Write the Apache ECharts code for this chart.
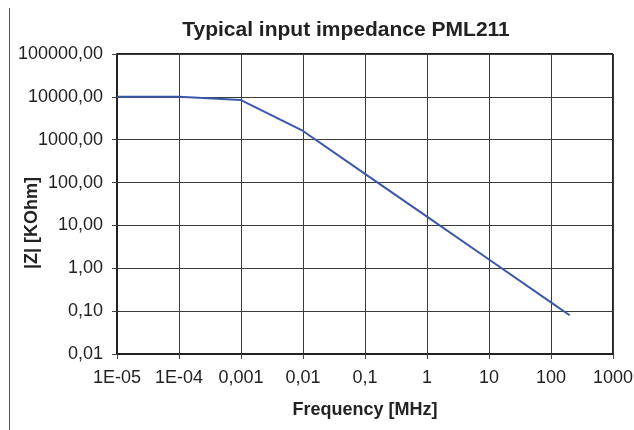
<!DOCTYPE html>
<html>
<head>
<meta charset="utf-8">
<script src="https://cdn.jsdelivr.net/npm/echarts@6/dist/echarts.min.js"></script>
<style>
  html, body { margin: 0; padding: 0; background: #fff; }
  #chart { width: 634px; height: 430px; }
</style>
</head>
<body>
<div id="chart"></div>
<script>
// frequency in MHz, impedance in KOhm
const freq = [0.00001, 0.0001, 0.001, 0.01, 0.1, 1, 10, 100, 200]
const impedance = [10000, 10000, 8400, 1600, 160, 16, 1.6, 0.16, 0.08]

// labels per decade, from the lowest exponent up
const xTickLabels = ['1E-05', '1E-04', '0,001', '0,01', '0,1', '1', '10', '100', '1000']
const yTickLabels = ['0,01', '0,10', '1,00', '10,00', '100,00', '1000,00', '10000,00', '100000,00']

const font = 'Liberation Sans, Arial, sans-serif'
const gridColor = '#3a3a3a'

const chart = echarts.init(document.getElementById('chart'))
chart.setOption({
  backgroundColor: '#fff',
  animation: false,
  title: {
    text: 'Typical input impedance PML211',
    left: 341,
    top: 15,
    textAlign: 'center',
    textStyle: { fontFamily: font, fontSize: 21, fontWeight: 'bold', color: '#222' }
  },
  grid: {
    left: 117, right: 21, top: 54, bottom: 76,
    containLabel: false,
    outerBoundsMode: 'none'
  },
  xAxis: {
    type: 'log',
    logBase: 10,
    min: 0.00001,
    max: 1000,
    interval: 1,
    name: 'Frequency [MHz]',
    nameLocation: 'middle',
    nameGap: 47,
    nameMoveOverlap: false,
    nameTextStyle: { fontFamily: font, fontSize: 18, fontWeight: 'bold', color: '#222' },
    axisLine: { show: true, lineStyle: { color: '#222', width: 2 } },
    axisTick: { show: true, length: 5, lineStyle: { color: '#444' } },
    axisLabel: {
      fontFamily: font, fontSize: 18, color: '#222', margin: 15,
      formatter: v => xTickLabels[Math.round(Math.log10(v)) + 5] || ''
    },
    splitLine: { show: true, lineStyle: { color: gridColor, width: 1 } },
    minorTick: { show: false },
    minorSplitLine: { show: false }
  },
  yAxis: {
    type: 'log',
    logBase: 10,
    min: 0.01,
    max: 100000,
    interval: 1,
    name: '|Z| [KOhm]',
    nameLocation: 'middle',
    nameGap: 76,
    nameMoveOverlap: false,
    nameTextStyle: {
      fontFamily: font, fontSize: 18, fontWeight: 'bold', color: '#222',
      padding: [0, 38, 0, 0]
    },
    axisLine: { show: true, lineStyle: { color: '#222', width: 2 } },
    axisTick: { show: true, length: 5, lineStyle: { color: '#444' } },
    axisLabel: {
      fontFamily: font, fontSize: 18, color: '#222', margin: 14,
      formatter: v => yTickLabels[Math.round(Math.log10(v)) + 2] || ''
    },
    splitLine: { show: true, lineStyle: { color: gridColor, width: 1 } }
  },
  graphic: [{
    type: 'line',
    shape: { x1: 9.5, y1: 8, x2: 9.5, y2: 430 },
    style: { stroke: '#555', lineWidth: 1 }
  }, {
    type: 'line',
    shape: { x1: 613, y1: 54, x2: 613, y2: 354 },
    style: { stroke: '#222', lineWidth: 2 }
  }, {
    type: 'line',
    shape: { x1: 117, y1: 54, x2: 613, y2: 54 },
    style: { stroke: '#222', lineWidth: 2 }
  }],
  series: [{
    type: 'line',
    data: freq.map((f, i) => [f, impedance[i]]),
    symbol: 'none',
    lineStyle: { color: '#3b57a8', width: 2 }
  }]
})
</script>
</body>
</html>
